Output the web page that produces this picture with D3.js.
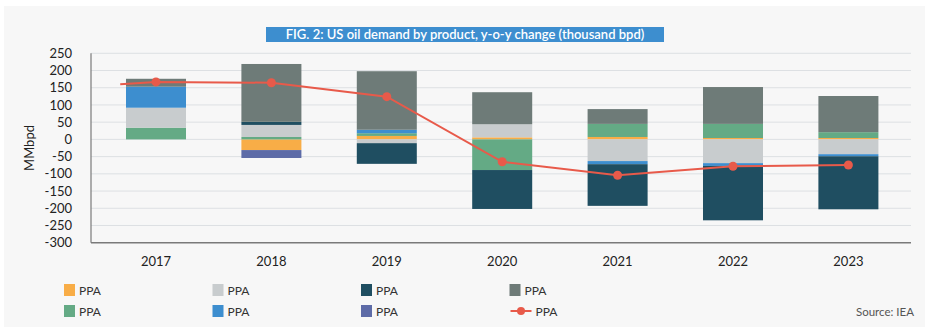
<!DOCTYPE html>
<html><head><meta charset="utf-8">
<script src="https://cdn.jsdelivr.net/npm/d3@7/dist/d3.min.js"></script>
<style>
html,body{margin:0;padding:0;background:#fff;}
svg{display:block;font-family:Lato,"Open Sans",sans-serif;}
</style></head>
<body>
<svg id="c" width="930" height="332"></svg>
<script>
// ---- data ----
const years = ["2017","2018","2019","2020","2021","2022","2023"];
const seriesNames = ["PPA","PPA","PPA","PPA","PPA","PPA","PPA","PPA"];
const orange    = [0, -31, 10, 6, 7, 4, 4];
const green     = [34, 7, 8, -89, 38, 41, 17];
const lightgrey = [58, 35, -11, 38, -63, -69, -43];
const blue      = [61, 0, 10, 0, -9, -8, -6];
const teal      = [0, 9, -60, -113, -121, -158, -154];
const purple    = [0, -23, 0, 0, 0, 0, 0];
const darkgrey  = [23, 168, 170, 93, 43, 107, 105];
const totalLine = [167, 164.5, 124, -65, -104, -78, -74.5];
const lineLead  = 160; // line stub drawn before the first year
const yTicks = [-300,-250,-200,-150,-100,-50,0,50,100,150,200,250];
const title = "FIG. 2: US oil demand by product, y-o-y change (thousand bpd)";
const yLabel = "MMbpd";
const source = "Source: IEA";

const colors = {
  orange:"#f8ad47", green:"#64aa85", lightgrey:"#c8ccce", blue:"#3d8ecf",
  teal:"#1f4e61", purple:"#5d6ba7", darkgrey:"#6e7b78", line:"#e85a4a"
};
const stackKeys = ["orange","green","lightgrey","blue","teal","purple","darkgrey"];
const seriesData = {orange, green, lightgrey, blue, teal, purple, darkgrey};
// legend order (row-major, 4 columns)
const legendKeys = ["orange","lightgrey","teal","darkgrey","green","blue","purple","line"];

const table = years.map((y,i)=>{
  const o = {year:y};
  stackKeys.forEach(k=>o[k]=seriesData[k][i]);
  return o;
});

const svg = d3.select("#c");
// panel background
svg.append("rect").attr("x",4).attr("y",6).attr("width",921).attr("height",321).attr("fill","#f7f7f7");

// title
const tb = svg.append("rect").attr("x",266).attr("y",27).attr("width",398).attr("height",15).attr("fill","#3d8ecf");
svg.append("text").attr("x",465).attr("y",39).attr("text-anchor","middle")
  .attr("fill","#fff").attr("font-size",13).attr("font-weight",600).text(title);

const x = d3.scaleBand().domain(years).range([98.3,906.1]).paddingInner(0.48).paddingOuter(0.24);
const y = d3.scaleLinear().domain([-300,250]).range([242.7,53.3]);
const plotL = 91, plotR = 911;

// gridlines
svg.append("g").selectAll("line").data(yTicks.filter(t=>t>-300)).join("line")
  .attr("x1",plotL).attr("x2",plotR).attr("y1",d=>y(d)).attr("y2",d=>y(d))
  .attr("stroke","#dde0e3").attr("stroke-width",1);

// y tick labels
svg.append("g").selectAll("text").data(yTicks).join("text")
  .attr("x",72).attr("y",d=>y(d)).attr("dy","0.35em").attr("text-anchor","end")
  .attr("font-size",13).attr("fill","#222").text(d=>d);

// y label
svg.append("text").attr("transform",`translate(34,${(y(-300)+y(250))/2}) rotate(-90)`)
  .attr("text-anchor","middle").attr("font-size",13).attr("fill","#222").text(yLabel);

// stacked bars
const stack = d3.stack().keys(stackKeys).offset(d3.stackOffsetDiverging);
const layers = stack(table);
svg.append("g").selectAll("g").data(layers).join("g").attr("fill",d=>colors[d.key])
  .selectAll("rect").data(d=>d).join("rect")
  .attr("x",d=>x(d.data.year)).attr("width",x.bandwidth())
  .attr("y",d=>y(Math.max(d[0],d[1]))).attr("height",d=>Math.abs(y(d[0])-y(d[1])));

// axes lines
svg.append("line").attr("x1",plotL).attr("x2",plotL).attr("y1",y(250)).attr("y2",y(-300))
  .attr("stroke","#7a7a7a").attr("stroke-width",1.2);
svg.append("line").attr("x1",plotL).attr("x2",plotR).attr("y1",y(-300)).attr("y2",y(-300))
  .attr("stroke","#7a7a7a").attr("stroke-width",1.6);

// x labels
svg.append("g").selectAll("text").data(years).join("text")
  .attr("x",d=>x(d)+x.bandwidth()/2).attr("y",266).attr("text-anchor","middle")
  .attr("font-size",13).attr("fill","#222").text(d=>d);

// line
const cx = d=>x(d)+x.bandwidth()/2;
const pts = [[cx(years[0]) - x.step()*0.31, y(lineLead)]].concat(years.map((yr,i)=>[cx(yr), y(totalLine[i])]));
svg.append("path").attr("d",d3.line()(pts)).attr("fill","none").attr("stroke",colors.line).attr("stroke-width",2);
svg.append("g").selectAll("circle").data(years).join("circle")
  .attr("cx",d=>cx(d)).attr("cy",(d,i)=>y(totalLine[i])).attr("r",4.5).attr("fill",colors.line);

// legend
const lg = svg.append("g");
legendKeys.forEach((k,i)=>{
  const col = i%4, row = Math.floor(i/4);
  const lx = 64 + col*148.5, ly = 290 + row*21;
  if(k==="line"){
    lg.append("line").attr("x1",lx+1).attr("x2",lx+22).attr("y1",ly).attr("y2",ly).attr("stroke",colors.line).attr("stroke-width",2);
    lg.append("circle").attr("cx",lx+11.5).attr("cy",ly).attr("r",4).attr("fill",colors.line);
    lg.append("text").attr("x",lx+26).attr("y",ly).attr("dy","0.38em").attr("font-size",12).attr("fill","#333").text(seriesNames[i]);
  } else {
    lg.append("rect").attr("x",lx).attr("y",ly-6).attr("width",11).attr("height",12).attr("fill",colors[k]);
    lg.append("text").attr("x",lx+15).attr("y",ly).attr("dy","0.38em").attr("font-size",12).attr("fill","#333").text(seriesNames[i]);
  }
});
svg.append("text").attr("x",914).attr("y",312).attr("dy","0.38em").attr("text-anchor","end")
  .attr("font-size",11.5).attr("fill","#555").text(source);
</script>
</body></html>
